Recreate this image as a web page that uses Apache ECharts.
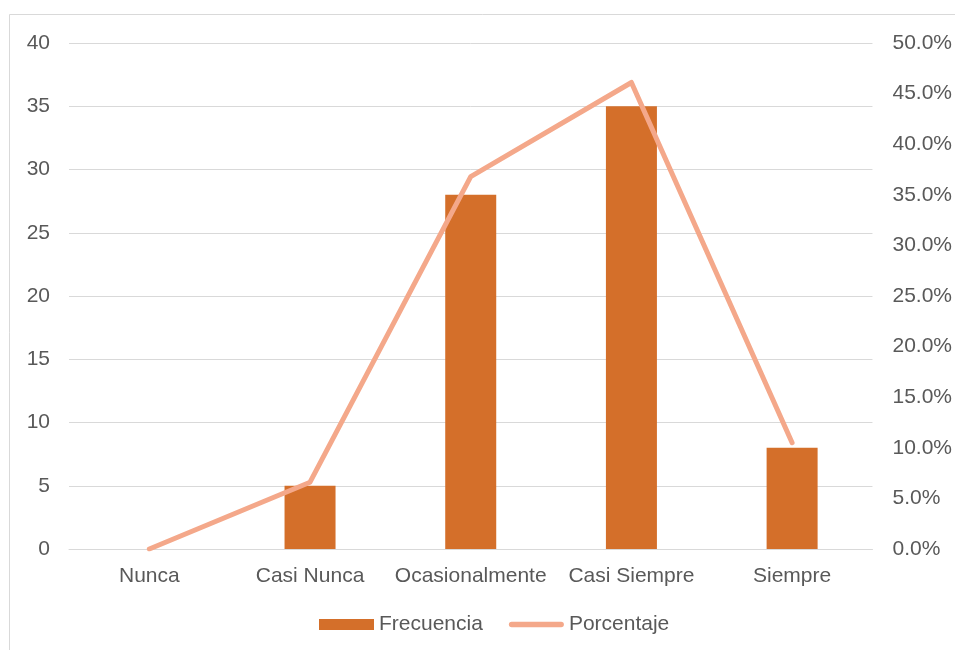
<!DOCTYPE html>
<html>
<head>
<meta charset="utf-8">
<script src="https://cdn.jsdelivr.net/npm/echarts@6/dist/echarts.min.js"></script>
<style>
html,body{margin:0;padding:0;background:#fff;}
#c{width:955px;height:650px;}
</style>
</head>
<body>
<div id="c"></div>
<script>
const categories = ['Nunca', 'Casi Nunca', 'Ocasionalmente', 'Casi Siempre', 'Siempre'];
const frecuencia = [0, 5, 28, 35, 8];
const porcentaje = [0.0, 6.6, 36.8, 46.1, 10.5];
const leftTicks = { min: 0, max: 40, interval: 5 };
const rightTicks = { min: 0, max: 50, interval: 5 };

const FONT = '"Liberation Sans", Arial, sans-serif';
const TXT = '#595959';
const BAR = '#D46F2A';
const LINE = '#F4A88A';
const chart = echarts.init(document.getElementById('c'), null, { renderer: 'canvas' });
chart.setOption({
  animation: false,
  backgroundColor: '#ffffff',
  textStyle: { fontFamily: FONT },
  graphic: [{
    type: 'rect',
    shape: { x: 9.5, y: 14.5, width: 1000, height: 700 },
    style: { fill: 'none', stroke: '#D9D9D9', lineWidth: 1 },
    silent: true,
    z: -1
  }],
  grid: { left: 69, right: 82, top: 43, bottom: 101, containLabel: false },
  legend: {
    left: 314,
    top: 609,
    itemWidth: 55,
    itemHeight: 11,
    itemGap: 26,
    textStyle: { fontSize: 21, color: TXT, fontFamily: FONT },
    data: [
      { name: 'Frecuencia', icon: 'rect', itemStyle: { color: BAR } },
      { name: 'Porcentaje',
        icon: 'path://M3,0 L57,0 Q60,0 60,3 Q60,6 57,6 L3,6 Q0,6 0,3 Q0,0 3,0 Z',
        itemStyle: { color: LINE, borderWidth: 0 } }
    ]
  },
  xAxis: {
    type: 'category',
    data: categories,
    axisTick: { show: false },
    axisLine: { show: true, lineStyle: { color: '#D9D9D9', width: 1 } },
    axisLabel: { fontSize: 21, color: TXT, margin: 17, fontFamily: FONT, interval: 0 }
  },
  yAxis: [{
    type: 'value',
    min: leftTicks.min, max: leftTicks.max, interval: leftTicks.interval,
    axisLine: { show: false },
    axisTick: { show: false },
    splitLine: { lineStyle: { color: '#D9D9D9', width: 1 } },
    axisLabel: { fontSize: 21, color: TXT, margin: 19, fontFamily: FONT }
  }, {
    type: 'value',
    min: rightTicks.min, max: rightTicks.max, interval: rightTicks.interval,
    axisLine: { show: false },
    axisTick: { show: false },
    splitLine: { show: false },
    axisLabel: { fontSize: 21, color: TXT, margin: 20, fontFamily: FONT,
      formatter: v => v.toFixed(1) + '%' }
  }],
  series: [{
    name: 'Frecuencia',
    type: 'bar',
    data: frecuencia,
    barWidth: 51,
    itemStyle: { color: BAR }
  }, {
    name: 'Porcentaje',
    type: 'line',
    yAxisIndex: 1,
    data: porcentaje,
    symbol: 'none',
    lineStyle: { color: LINE, width: 5, cap: 'round', join: 'round' },
    itemStyle: { color: LINE },
    z: 3
  }]
});
</script>
</body>
</html>
